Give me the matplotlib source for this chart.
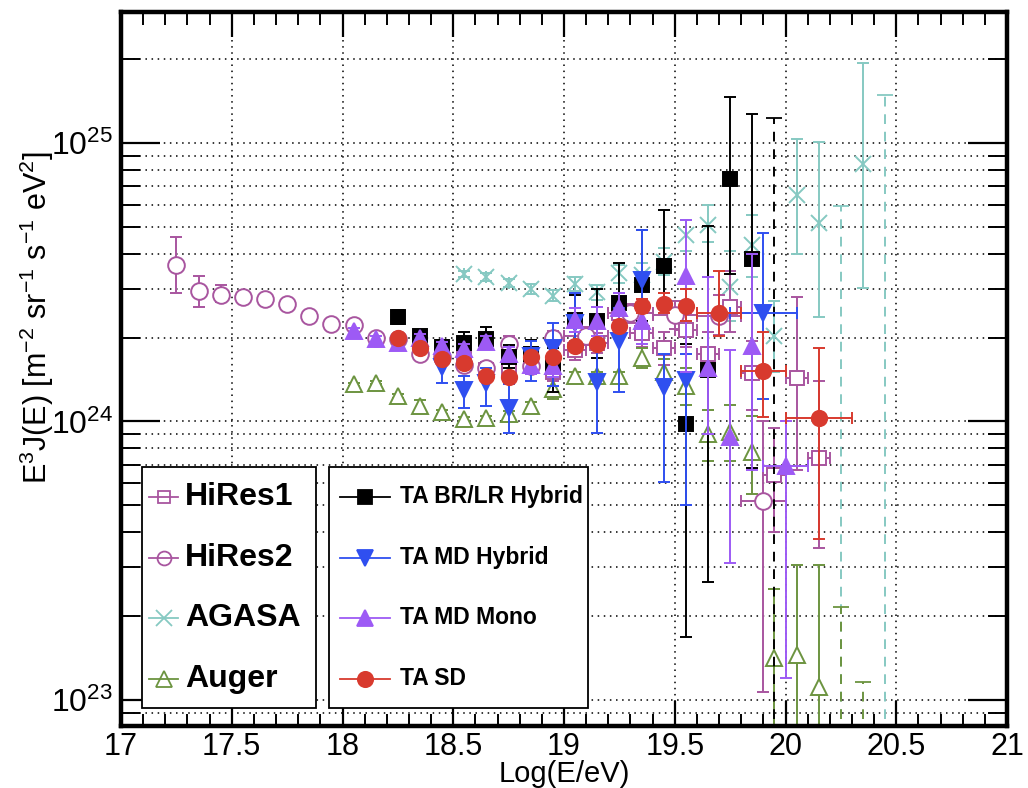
import numpy as np
import matplotlib
matplotlib.use('Agg')
import matplotlib.pyplot as plt
from matplotlib.ticker import FixedLocator, NullFormatter, FuncFormatter, MultipleLocator
from matplotlib.patches import Rectangle

plt.rcParams['font.family'] = ['Liberation Sans', 'DejaVu Sans']
plt.rcParams['mathtext.fontset'] = 'custom'
plt.rcParams['mathtext.rm'] = 'Liberation Sans'
plt.rcParams['mathtext.it'] = 'Liberation Sans:italic'
plt.rcParams['mathtext.bf'] = 'Liberation Sans:bold'

# ---------------- data (flux values in units of 1e24) ----------------
hires2_x = [17.25, 17.35, 17.45, 17.55, 17.65, 17.75, 17.85, 17.95, 18.05, 18.15, 18.25, 18.35,
            18.45, 18.55, 18.65, 18.75, 18.85, 18.95, 19.10, 19.30, 19.50, 19.70, 19.90]
hires2_y = [3.63, 2.95, 2.85, 2.79, 2.75, 2.64, 2.40, 2.24, 2.22, 1.99, 1.97, 1.74,
            1.70, 1.60, 1.56, 1.90, 1.58, 2.00, 2.03, 2.45, 2.42, 2.40, 0.52]
hires2_lo = [2.88, 2.58, 2.68, 2.70, 2.67, 2.57, 2.34, 2.19, 2.17, 1.95, 1.92, 1.69,
             1.64, 1.54, 1.49, 1.80, 1.48, 1.87, 1.88, 2.25, 2.15, 2.05, 0.107]
hires2_hi = [4.60, 3.33, 3.10, 2.88, 2.83, 2.71, 2.46, 2.29, 2.27, 2.03, 2.02, 1.79,
             1.76, 1.66, 1.63, 2.02, 1.68, 2.12, 2.18, 2.65, 2.70, 2.85, 1.00]
hires2_xe = [0]*18 + [0.1, 0.1, 0.1, 0.1, 0.1]

hires1_x = [18.55, 18.65, 18.75, 18.85, 18.95, 19.05, 19.15, 19.25, 19.35, 19.45, 19.55, 19.65,
            19.75, 19.85, 19.95, 20.05, 20.15]
hires1_y = [1.72, 1.53, 1.54, 1.60, 1.51, 1.80, 1.92, 2.45, 2.07, 1.84, 2.13, 1.75,
            2.58, 1.49, 0.64, 1.43, 0.74]
hires1_lo = [1.65, 1.45, 1.45, 1.50, 1.40, 1.66, 1.76, 2.20, 1.85, 1.60, 1.85, 1.45,
             2.10, 1.10, 0.40, 0.67, 0.35]
hires1_hi = [1.80, 1.61, 1.63, 1.70, 1.62, 1.94, 2.08, 2.70, 2.30, 2.10, 2.45, 2.10,
             3.46, 1.95, 0.95, 2.80, 1.40]
hires1_xe = [0]*5 + [0.05]*12

agasa_x = [18.55, 18.65, 18.75, 18.85, 18.95, 19.05, 19.15, 19.25, 19.35, 19.45, 19.55, 19.65,
           19.75, 19.85, 19.95, 20.05, 20.15, 20.35]
agasa_y = [3.39, 3.30, 3.14, 2.99, 2.83, 3.12, 2.92, 3.40, 3.35, 3.75, 4.67, 5.08,
           3.05, 4.30, 2.02, 6.50, 5.15, 8.40]
agasa_lo = [3.30, 3.20, 3.03, 2.87, 2.70, 2.95, 2.74, 3.15, 3.05, 3.35, 4.10, 4.40,
            2.30, 3.30, 1.50, 4.00, 2.37, 3.02]
agasa_hi = [3.48, 3.40, 3.25, 3.11, 2.96, 3.30, 3.10, 3.65, 3.70, 4.20, 5.30, 6.00,
            4.10, 5.50, 2.70, 10.3, 10.1, 19.4]

auger_x = [18.05, 18.15, 18.25, 18.35, 18.45, 18.55, 18.65, 18.75, 18.85, 18.95, 19.05, 19.15,
           19.25, 19.35, 19.45, 19.55, 19.65, 19.75, 19.85, 19.95, 20.05, 20.15]
auger_y = [1.36, 1.38, 1.23, 1.14, 1.08, 1.02, 1.03, 1.06, 1.14, 1.31, 1.46, 1.46,
           1.46, 1.69, 1.51, 1.34, 0.90, 0.92, 0.78, 0.142, 0.145, 0.111]
auger_lo = [1.34, 1.36, 1.21, 1.09, 1.06, 1.00, 1.01, 1.03, 1.11, 1.20, 1.42, 1.42,
            1.41, 1.55, 1.35, 1.15, 0.72, 0.72, 0.55, 0.01, 0.01, 0.01]
auger_hi = [1.38, 1.40, 1.25, 1.19, 1.10, 1.04, 1.05, 1.09, 1.17, 1.42, 1.50, 1.50,
            1.51, 1.83, 1.68, 1.55, 1.10, 1.15, 1.05, 0.25, 0.306, 0.306]

brlr_x = [18.25, 18.35, 18.45, 18.55, 18.65, 18.75, 18.85, 18.95, 19.05, 19.15, 19.25, 19.35,
          19.45, 19.55, 19.65, 19.75, 19.85]
brlr_y = [2.37, 2.02, 1.85, 1.92, 1.97, 1.71, 1.74, 1.60, 2.32, 2.29, 2.67, 3.10,
          3.60, 0.976, 1.53, 7.43, 3.84]
brlr_lo = [2.23, 1.93, 1.75, 1.80, 1.82, 1.55, 1.55, 1.28, 1.90, 1.69, 2.00, 2.30,
           2.60, 0.169, 0.266, 3.39, 0.68]
brlr_hi = [2.52, 2.11, 1.96, 2.09, 2.19, 1.88, 1.96, 1.84, 2.85, 3.00, 3.72, 4.88,
           5.75, 1.90, 5.03, 14.6, 12.7]

mdh_x = [18.45, 18.55, 18.65, 18.75, 18.85, 18.95, 19.05, 19.15, 19.25, 19.35, 19.45, 19.55, 19.90]
mdh_y = [1.57, 1.30, 1.37, 1.12, 1.72, 1.84, 2.25, 1.39, 1.94, 3.23, 1.33, 1.41, 2.45]
mdh_lo = [1.38, 1.12, 1.14, 0.91, 1.40, 1.34, 1.80, 0.91, 1.28, 2.20, 0.604, 0.50, 1.20]
mdh_hi = [1.75, 1.46, 1.55, 1.36, 1.95, 2.26, 2.90, 2.20, 2.55, 4.88, 1.75, 1.75, 4.76]
mdh_xe = [0]*12 + [0.15]

mdm_x = [18.05, 18.15, 18.25, 18.35, 18.45, 18.55, 18.65, 18.75, 18.85, 18.95, 19.05, 19.15,
         19.25, 19.35, 19.55, 19.65, 19.75, 19.85, 20.00]
mdm_y = [2.11, 1.97, 1.91, 2.00, 1.86, 1.82, 1.93, 1.74, 1.60, 1.58, 2.32, 2.29,
         2.56, 2.29, 3.32, 1.55, 0.88, 1.86, 0.69]
mdm_lo = [2.05, 1.92, 1.86, 1.94, 1.79, 1.74, 1.84, 1.63, 1.48, 1.45, 2.10, 2.03,
          2.25, 1.90, 1.50, 0.90, 0.31, 0.67, 0.12]
mdm_hi = [2.17, 2.02, 1.96, 2.06, 1.93, 1.90, 2.02, 1.85, 1.72, 1.72, 2.55, 2.58,
          2.90, 2.75, 5.30, 3.30, 1.80, 4.00, 1.00]
mdm_xe = [0]*18 + [0.1]

sd_x = [18.25, 18.35, 18.45, 18.55, 18.65, 18.75, 18.85, 18.95, 19.05, 19.15, 19.25, 19.35,
        19.45, 19.55, 19.70, 19.90, 20.15]
sd_y = [2.00, 1.84, 1.68, 1.62, 1.46, 1.45, 1.71, 1.71, 1.86, 1.90, 2.20, 2.59,
        2.65, 2.60, 2.45, 1.52, 1.03]
sd_lo = [1.96, 1.80, 1.64, 1.58, 1.42, 1.41, 1.66, 1.66, 1.80, 1.83, 2.10, 2.45,
         2.45, 2.30, 2.03, 1.04, 0.378]
sd_hi = [2.04, 1.88, 1.72, 1.66, 1.50, 1.49, 1.76, 1.76, 1.92, 1.97, 2.30, 2.75,
         2.90, 3.00, 3.48, 2.10, 1.84]
sd_xe = [0]*14 + [0.1, 0.1, 0.15]

# upper limits (dashed)
ul_brlr_x, ul_brlr_y = [19.95], [12.3]
ul_agasa_x, ul_agasa_y = [20.25, 20.45], [5.94, 14.9]
ul_auger_x, ul_auger_y = [20.25, 20.35], [0.215, 0.116]

SCALE = 1e24
YMIN, YMAX = 8.07e22, 2.95e25

C_HIRES = '#a8559f'
C_AGASA = '#86c9c2'
C_AUGER = '#6c9440'
C_BRLR = '#000000'
C_MDH = '#2f4ff0'
C_MDM = '#9d5af5'
C_SD = '#d83a2e'

fig = plt.figure(figsize=(10.28, 7.88), dpi=100)
ax = fig.add_axes([121/1028, 62/788, 886/1028, 714/788])
ax.set_yscale('log')
ax.set_xlim(17, 21)
ax.set_ylim(YMIN, YMAX)


def draw(x, y, lo, hi, color, marker, ms, mfc, z, xe=None, mew=1.4):
    y = np.array(y) * SCALE
    lo = np.array(lo) * SCALE
    hi = np.array(hi) * SCALE
    if xe is None:
        xe = np.zeros(len(x))
    ax.errorbar(x, y, yerr=[y - lo, hi - y], xerr=xe, fmt=marker, color=color,
                mfc=mfc, mec=color, ms=ms, mew=mew, elinewidth=1.4, capsize=4.5,
                capthick=1.3, zorder=z)


def draw_ul(x, y, color, z):
    y = np.array(y) * SCALE
    lower = y - YMIN * 0.5
    _, caps, bars = ax.errorbar(x, y, yerr=[lower, np.zeros(len(y))], fmt='none',
                                ecolor=color, elinewidth=1.4, capsize=6, capthick=1.3,
                                zorder=z)
    for b in bars:
        b.set_linestyle((0, (5, 4)))


draw(hires1_x, hires1_y, hires1_lo, hires1_hi, C_HIRES, 's', 10, 'white', 3, hires1_xe)
draw(hires2_x, hires2_y, hires2_lo, hires2_hi, C_HIRES, 'o', 12, 'white', 3, hires2_xe)
draw(agasa_x, agasa_y, agasa_lo, agasa_hi, C_AGASA, 'x', 12, 'none', 2)
draw_ul(ul_agasa_x, ul_agasa_y, C_AGASA, 2)
draw(auger_x, auger_y, auger_lo, auger_hi, C_AUGER, '^', 12, 'white', 3)
draw_ul(ul_auger_x, ul_auger_y, C_AUGER, 3)
draw(brlr_x, brlr_y, brlr_lo, brlr_hi, C_BRLR, 's', 10, C_BRLR, 4)
draw_ul(ul_brlr_x, ul_brlr_y, C_BRLR, 4)
draw(mdh_x, mdh_y, mdh_lo, mdh_hi, C_MDH, 'v', 11, C_MDH, 5, mdh_xe)
draw(mdm_x, mdm_y, mdm_lo, mdm_hi, C_MDM, '^', 11, C_MDM, 6, mdm_xe)
draw(sd_x, sd_y, sd_lo, sd_hi, C_SD, 'o', 11, C_SD, 7, sd_xe)

# ---------------- axes styling ----------------
for s in ax.spines.values():
    s.set_linewidth(3.2)
    s.set_zorder(20)

ax.xaxis.set_major_locator(MultipleLocator(0.5))
ax.xaxis.set_minor_locator(MultipleLocator(0.1))
ax.xaxis.set_major_formatter(FuncFormatter(lambda v, p: ('%g' % v)))

major_y = [1e23, 1e24, 1e25]
minor_y = [m * 10.0 ** e for e in (22, 23, 24, 25) for m in range(2, 10)]
ax.yaxis.set_major_locator(FixedLocator(major_y))
ax.yaxis.set_minor_locator(FixedLocator(minor_y))
ax.yaxis.set_major_formatter(FuncFormatter(lambda v, p: r'$\mathregular{10^{%d}}$' % round(np.log10(v))))
ax.yaxis.set_minor_formatter(NullFormatter())

ax.tick_params(axis='both', which='both', direction='in', top=True, right=True, color='black')
ax.tick_params(axis='x', which='major', length=18, width=1.6, labelsize=22, pad=4)
ax.tick_params(axis='x', which='minor', length=9, width=1.4)
ax.tick_params(axis='y', which='major', length=28, width=1.6, labelsize=23, pad=6)
ax.tick_params(axis='y', which='minor', length=14, width=1.4)

ax.grid(True, which='major', axis='x', color='black', linestyle=(0, (1, 3)), linewidth=1.1)
ax.grid(True, which='both', axis='y', color='black', linestyle=(0, (1, 3)), linewidth=1.1)
ax.set_axisbelow(True)


def fx(px):
    return (px - 121) / 886.0


def fy(py):
    return (726 - py) / 714.0


ax.set_xlabel('Log(E/eV)', fontsize=21, va='center')
ax.xaxis.set_label_coords(fx(564), fy(774))
ax.set_ylabel(r'E$^{3}$J(E) [m$^{-2}$ sr$^{-1}$ s$^{-1}$ eV$^{2}$]', fontsize=22, va='center')
ax.yaxis.set_label_coords(fx(37), fy(318))

# ---------------- legends (drawn in axes fraction) ----------------
T = ax.transAxes
ax.add_patch(Rectangle((fx(141.7), fy(708.3)), fx(316) - fx(141.7), fy(466.7) - fy(708.3),
                       transform=T, facecolor='white', edgecolor='black', lw=1.3, zorder=30))
ax.add_patch(Rectangle((fx(329.3), fy(708.3)), fx(588) - fx(329.3), fy(466.7) - fy(708.3),
                       transform=T, facecolor='white', edgecolor='black', lw=1.3, zorder=30))

left_labels = ['HiRes1', 'HiRes2', 'AGASA', 'Auger']
left_styles = [(C_HIRES, 's', 9, 'none'), (C_HIRES, 'o', 10, 'none'),
               (C_AGASA, 'x', 11, 'none'), (C_AUGER, '^', 11, 'none')]
right_labels = ['TA BR/LR Hybrid', 'TA MD Hybrid', 'TA MD Mono', 'TA SD']
right_styles = [(C_BRLR, 's', 10, C_BRLR), (C_MDH, 'v', 11, C_MDH),
                (C_MDM, '^', 11, C_MDM), (C_SD, 'o', 11, C_SD)]
rows = [497, 557.5, 618, 678.5]

for lab, (c, m, ms, mfc), py in zip(left_labels, left_styles, rows):
    ax.plot([fx(149), fx(178)], [fy(py), fy(py)], color=c, lw=1.3, transform=T,
            clip_on=False, zorder=31)
    ax.plot([fx(163.5)], [fy(py)], marker=m, ms=ms, mfc=mfc, mec=c, mew=1.3, color=c,
            transform=T, clip_on=False, zorder=32)
    ax.text(fx(185), fy(py), lab, transform=T, fontsize=23, fontweight='bold',
            va='center', ha='left', zorder=33)

for lab, (c, m, ms, mfc), py in zip(right_labels, right_styles, rows):
    ax.plot([fx(340), fx(390)], [fy(py), fy(py)], color=c, lw=1.3, transform=T,
            clip_on=False, zorder=31)
    ax.plot([fx(365)], [fy(py)], marker=m, ms=ms, mfc=mfc, mec=c, mew=1.3, color=c,
            transform=T, clip_on=False, zorder=32)
    ax.text(fx(400), fy(py), lab, transform=T, fontsize=16.5, fontweight='bold',
            va='center', ha='left', zorder=33)

fig.savefig('out.png', dpi=100)
